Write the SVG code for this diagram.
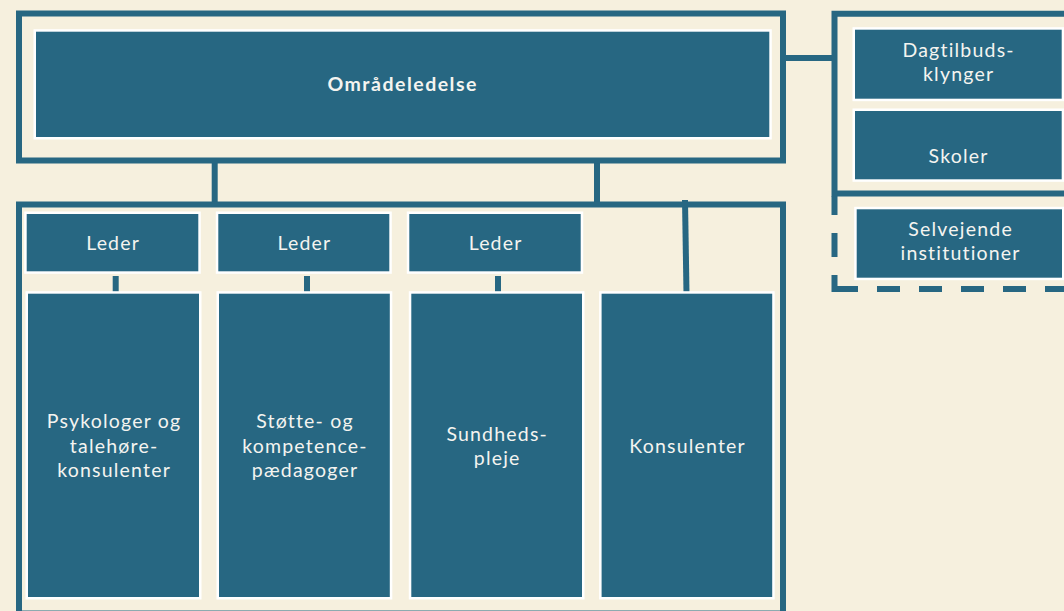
<svg xmlns="http://www.w3.org/2000/svg" width="1064" height="611" viewBox="0 0 1064 611">
<style>
.frame{fill:none;stroke:#276782;stroke-width:6}
.line{fill:none;stroke:#276782;stroke-width:6}
.box{fill:#276782;stroke:#ffffff;stroke-width:2.5}
.t{font-family:Lato,"Open Sans",sans-serif;font-size:19.5px;letter-spacing:1.2px;fill:#f4f4f0;text-anchor:middle}
.b{font-weight:bold;letter-spacing:1.5px}
</style>
<rect width="1064" height="611" fill="#f6f0de"/>
<g id="connectors">
<line class="line" x1="786" y1="58" x2="833" y2="58"/>
<line class="line" x1="214.7" y1="163" x2="214.7" y2="204"/>
<line class="line" x1="597" y1="163" x2="597" y2="204"/>
<line class="line" x1="685" y1="200" x2="686.5" y2="294"/>
<line class="line" x1="115.7" y1="276" x2="115.7" y2="292.5"/>
<line class="line" x1="307" y1="276" x2="307" y2="292.5"/>
<line class="line" x1="498" y1="276" x2="498" y2="292.5"/>
</g>
<g id="frame-top"><rect class="frame" x="19" y="13.5" width="764" height="147"/></g>
<g id="frame-bottom"><rect class="frame" x="19" y="204.5" width="764" height="409"/></g>
<g id="frame-right">
<path class="frame" d="M1070 13.7 H834.5 V193.5 H1070"/>
<path class="line" d="M834.5 196 V215 M834.5 233 V257 M834.5 275 V289 H858 M877 289 H900 M919 289 H942 M961 289 H984 M1003 289 H1026 M1045 289 H1068"/>
</g>
<g id="omraadeledelse">
<rect class="box" x="34.75" y="30.45" width="735.8" height="107.8"/>
<text class="t b" x="402.7" y="90.5">Områdeledelse</text>
</g>
<g id="dagtilbud">
<rect class="box" x="853.75" y="28.45" width="209.2" height="71.5"/>
<text class="t" x="958.6" y="57.3">Dagtilbuds-</text>
<text class="t" x="958.6" y="81">klynger</text>
</g>
<g id="skoler">
<rect class="box" x="853.75" y="109.75" width="209.2" height="70.8"/>
<text class="t" x="958.6" y="162.7">Skoler</text>
</g>
<g id="selvejende">
<rect class="box" x="855.45" y="208.05" width="207.8" height="70.9"/>
<text class="t" x="960.6" y="236">Selvejende</text>
<text class="t" x="960.6" y="260">institutioner</text>
</g>
<g id="leder1">
<rect class="box" x="25.45" y="212.75" width="174.1" height="59.8"/>
<text class="t" x="113.1" y="250">Leder</text>
</g>
<g id="leder2">
<rect class="box" x="217.05" y="212.75" width="173.5" height="59.8"/>
<text class="t" x="304.4" y="250">Leder</text>
</g>
<g id="leder3">
<rect class="box" x="408.05" y="212.75" width="173.9" height="59.8"/>
<text class="t" x="495.6" y="250">Leder</text>
</g>
<g id="psykologer">
<rect class="box" x="26.75" y="292.45" width="173.5" height="305.8"/>
<text class="t" x="114.1" y="428.3">Psykologer og</text>
<text class="t" x="114.1" y="452.8">talehøre-</text>
<text class="t" x="114.1" y="477.3">konsulenter</text>
</g>
<g id="stoette">
<rect class="box" x="217.75" y="292.45" width="173.3" height="305.8"/>
<text class="t" x="305" y="428.3">Støtte- og</text>
<text class="t" x="305" y="452.8">kompetence-</text>
<text class="t" x="305" y="477.3">pædagoger</text>
</g>
<g id="sundhedspleje">
<rect class="box" x="410.05" y="292.45" width="173.2" height="305.8"/>
<text class="t" x="497.2" y="440.5">Sundheds-</text>
<text class="t" x="497.2" y="465">pleje</text>
</g>
<g id="konsulenter">
<rect class="box" x="600.35" y="292.45" width="173.1" height="305.8"/>
<text class="t" x="687.6" y="452.7">Konsulenter</text>
</g>
</svg>
